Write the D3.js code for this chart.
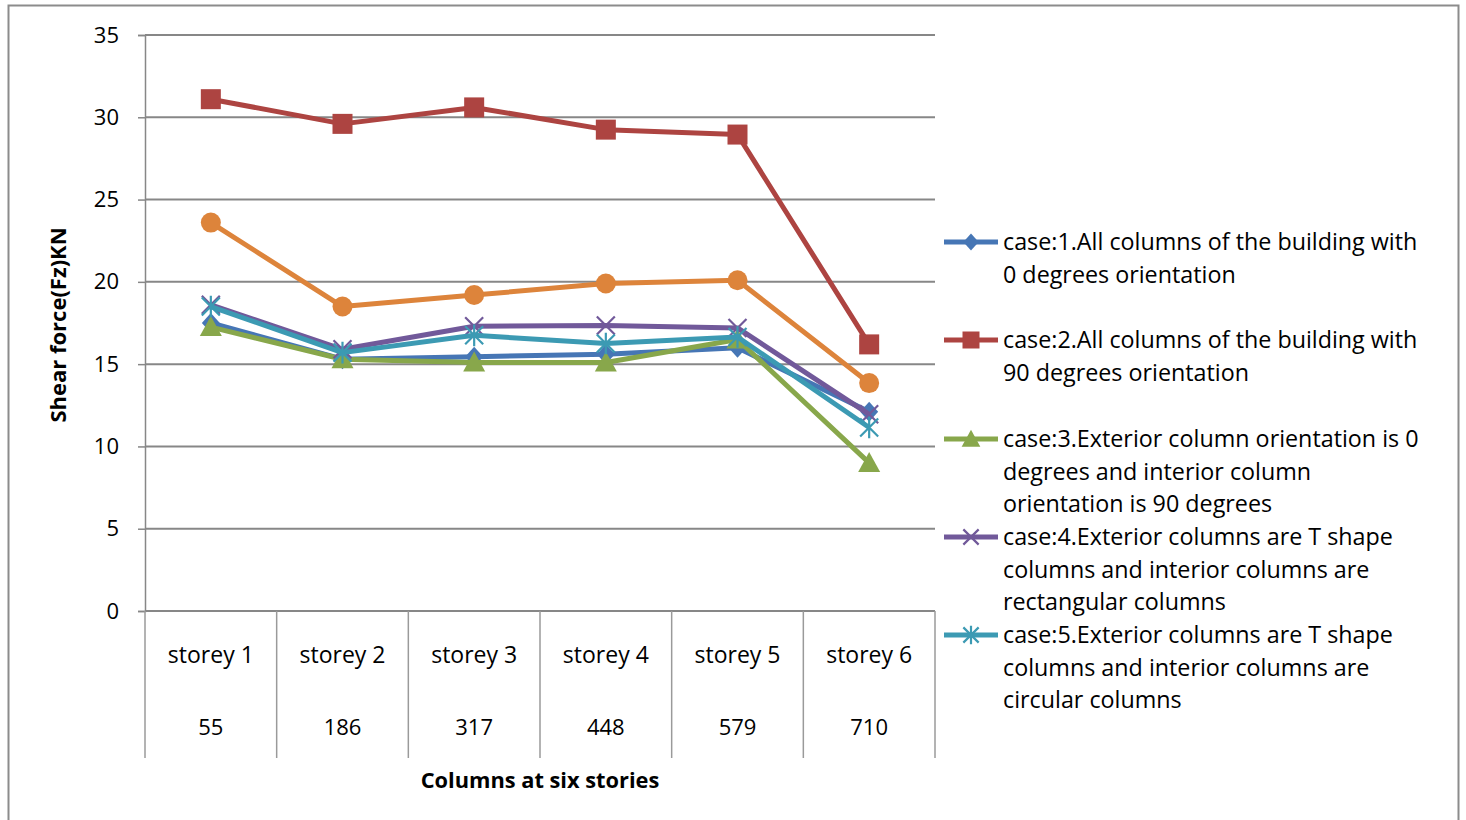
<!DOCTYPE html>
<html>
<head>
<meta charset="utf-8">
<script src="https://cdn.jsdelivr.net/npm/d3@7"></script>
<style>
  html, body { margin: 0; padding: 0; background: #fff; }
  svg { display: block; }
  text { font-family: "Open Sans", "Noto Sans", sans-serif; fill: #000; }
</style>
</head>
<body>
<svg id="chart" width="1466" height="820"></svg>
<script>
// Category levels along the horizontal axis
const storeys = ["storey 1", "storey 2", "storey 3", "storey 4", "storey 5", "storey 6"];
const columnIds = ["55", "186", "317", "448", "579", "710"];

// Shear force (kN) per storey for each case
const case1 = [17.5, 15.3, 15.45, 15.6, 16.0, 12.1];
const case2 = [31.1, 29.6, 30.6, 29.25, 28.95, 16.2];
const case3 = [17.25, 15.3, 15.1, 15.1, 16.5, 9.0];
const case4 = [18.6, 15.9, 17.3, 17.35, 17.2, 11.95];
const case5 = [18.5, 15.7, 16.75, 16.25, 16.65, 11.15];
const case6 = [23.6, 18.5, 19.2, 19.9, 20.1, 13.85];

const yTicks = [0, 5, 10, 15, 20, 25, 30, 35];

const legendLabels = [
  ["case:1.All columns of the building with", "0 degrees orientation"],
  ["case:2.All columns of the building with", "90 degrees orientation"],
  ["case:3.Exterior column orientation is 0", "degrees and interior column", "orientation is 90 degrees"],
  ["case:4.Exterior columns are T shape", "columns and interior columns are", "rectangular columns"],
  ["case:5.Exterior columns are T shape", "columns and interior columns are", "circular columns"]
];

const series = [
  { values: case1, color: "#4676B5", marker: "diamond" },
  { values: case2, color: "#AD4441", marker: "square" },
  { values: case3, color: "#88A74B", marker: "triangle" },
  { values: case4, color: "#71599A", marker: "cross" },
  { values: case5, color: "#3C9AB3", marker: "star" },
  { values: case6, color: "#DD843B", marker: "circle" }
];

const svg = d3.select("#chart");
const plot = { left: 145, right: 935, top: 35, bottom: 611 };
const gridColor = "#878787";

// Outer frame
svg.append("path")
  .attr("d", "M8.5,820 V5.5 H1458.5 V820")
  .attr("fill", "none").attr("stroke", "#8c8c8c").attr("stroke-width", 2);

const x = d3.scaleBand().domain(storeys).range([plot.left, plot.right]).padding(0);
const y = d3.scaleLinear().domain([0, 35]).range([plot.bottom, plot.top]);
const cx = d => x(d) + x.bandwidth() / 2;

// Horizontal gridlines
svg.append("g").selectAll("line").data(yTicks.filter(t => t > 0)).join("line")
  .attr("x1", plot.left).attr("x2", plot.right)
  .attr("y1", d => y(d)).attr("y2", d => y(d))
  .attr("stroke", gridColor).attr("stroke-width", 2);

// Value axis
const yAxis = svg.append("g").attr("transform", `translate(${plot.left},0)`)
  .call(d3.axisLeft(y).tickValues(yTicks).tickSize(7).tickPadding(19));
yAxis.select(".domain").attr("stroke", gridColor).attr("stroke-width", 1.5);
yAxis.selectAll(".tick line").attr("stroke", gridColor).attr("stroke-width", 1.5);
yAxis.selectAll(".tick text").attr("font-size", 22).attr("font-family", "Open Sans").attr("fill", "#000");

// Category axis: baseline plus divider lines between categories
svg.append("line")
  .attr("x1", plot.left).attr("x2", plot.right)
  .attr("y1", y(0)).attr("y2", y(0))
  .attr("stroke", gridColor).attr("stroke-width", 2);
const bounds = storeys.map(s => x(s)).concat([plot.right]);
svg.append("g").selectAll("line").data(bounds).join("line")
  .attr("x1", d => d).attr("x2", d => d)
  .attr("y1", y(0)).attr("y2", 758)
  .attr("stroke", "#9a9a9a").attr("stroke-width", 1.5);

svg.append("g").selectAll("text").data(storeys).join("text")
  .attr("x", d => cx(d)).attr("y", 663)
  .attr("text-anchor", "middle").attr("font-size", 23)
  .text(d => d);
svg.append("g").selectAll("text").data(columnIds).join("text")
  .attr("x", (d, i) => cx(storeys[i])).attr("y", 735)
  .attr("text-anchor", "middle").attr("font-size", 22)
  .text(d => d);

// Axis titles
svg.append("text")
  .attr("x", 540).attr("y", 788)
  .attr("text-anchor", "middle").attr("font-size", 21.8).attr("font-weight", "bold")
  .text("Columns at six stories");
svg.append("text")
  .attr("transform", "translate(66,325) rotate(-90)")
  .attr("text-anchor", "middle").attr("font-size", 22).attr("font-weight", "bold")
  .text("Shear force(Fz)KN");

// Marker shapes
function drawMarker(g, type, color, px, py, scale = 1) {
  const s = scale;
  if (type === "square") {
    g.append("rect").attr("x", px - 10 * s).attr("y", py - 10 * s)
      .attr("width", 20 * s).attr("height", 20 * s).attr("fill", color);
  } else if (type === "circle") {
    g.append("circle").attr("cx", px).attr("cy", py).attr("r", 10 * s).attr("fill", color);
  } else if (type === "diamond") {
    g.append("path").attr("d", `M${px},${py - 10 * s}L${px + 9 * s},${py}L${px},${py + 10 * s}L${px - 9 * s},${py}Z`)
      .attr("fill", color);
  } else if (type === "triangle") {
    g.append("path").attr("d", `M${px},${py - 11 * s}L${px + 11 * s},${py + 9 * s}L${px - 11 * s},${py + 9 * s}Z`)
      .attr("fill", color);
  } else if (type === "cross") {
    const r = 9 * s;
    g.append("path").attr("d", `M${px - r},${py - r}L${px + r},${py + r}M${px - r},${py + r}L${px + r},${py - r}`)
      .attr("stroke", color).attr("stroke-width", 2.2).attr("fill", "none");
  } else if (type === "star") {
    const r = 9 * s;
    g.append("path").attr("d",
      `M${px - r},${py - r}L${px + r},${py + r}M${px - r},${py + r}L${px + r},${py - r}M${px},${py - r * 1.2}L${px},${py + r * 1.2}`)
      .attr("stroke", color).attr("stroke-width", 2.2).attr("fill", "none");
  }
}

// Series lines and markers
const line = d3.line().x((d, i) => cx(storeys[i])).y(d => y(d));
const seriesG = svg.append("g");
series.forEach(s => {
  const g = seriesG.append("g");
  g.append("path").datum(s.values).attr("d", line)
    .attr("fill", "none").attr("stroke", s.color).attr("stroke-width", 5)
    .attr("stroke-linejoin", "round");
  s.values.forEach((v, i) => drawMarker(g, s.marker, s.color, cx(storeys[i]), y(v)));
});

// Legend (first five cases)
const legend = svg.append("g");
const lineH = 32.7;
const entryTops = [242, 340, 439, 537, 635];
legendLabels.forEach((lines, i) => {
  const s = series[i];
  const ly = entryTops[i];
  legend.append("line").attr("x1", 944).attr("x2", 998).attr("y1", ly).attr("y2", ly)
    .attr("stroke", s.color).attr("stroke-width", 5);
  drawMarker(legend, s.marker, s.color, 971, ly, 0.85);
  lines.forEach((t, j) => {
    legend.append("text").attr("x", 1003).attr("y", ly + j * lineH + 8)
      .attr("font-size", 23.3).text(t);
  });
});
</script>
</body>
</html>
